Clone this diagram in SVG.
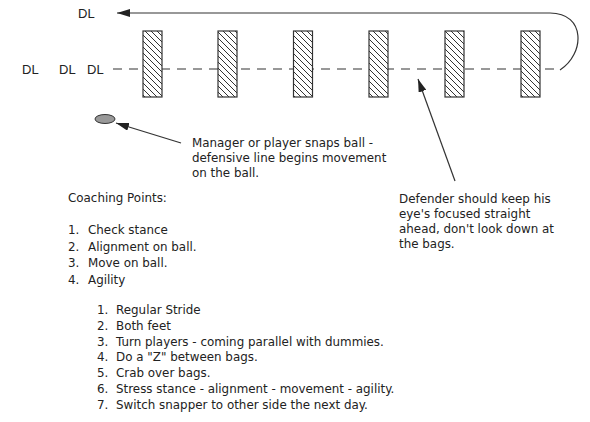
<svg xmlns="http://www.w3.org/2000/svg" width="590" height="422" viewBox="0 0 590 422">
<style>
text{font-family:"DejaVu Sans","Liberation Sans",sans-serif;font-size:11.9px;fill:#222}
.dl{font-family:"Liberation Sans",Arial,sans-serif;font-size:13px}
.bag{fill:url(#hatch);stroke:#333;stroke-width:1.2}
.ln{fill:none;stroke:#333;stroke-width:1.2}
.dash{fill:none;stroke:#333;stroke-width:1.2;stroke-dasharray:9 7}
</style>
<defs>
<pattern id="hatch" patternUnits="userSpaceOnUse" width="6" height="6">
<rect width="6" height="6" fill="#fff"/>
<path d="M-1,-1 L7,7 M-1,5 L1,7 M5,-1 L7,1" stroke="#333" stroke-width="1"/>
</pattern>
<marker id="ah" viewBox="0 0 13 8" refX="13" refY="4" markerWidth="13" markerHeight="8" markerUnits="userSpaceOnUse" orient="auto">
<path d="M0,0 L13,4 L0,8 Z" fill="#222"/>
</marker>
</defs>
<g id="connectors">
<path class="dash" d="M113,69 H560"/>
<path class="ln" d="M560,70 C585,54 586,13 550,13 H117" marker-end="url(#ah)"/>
<line class="ln" x1="181" y1="143" x2="116" y2="123" marker-end="url(#ah)"/>
<line class="ln" x1="455" y1="181" x2="418" y2="79" marker-end="url(#ah)"/>
</g>
<g id="dl-labels">
<text class="dl" x="78" y="18">DL</text>
<text class="dl" x="22" y="74">DL</text>
<text class="dl" x="59" y="74">DL</text>
<text class="dl" x="87" y="74">DL</text>
</g>
<g id="bags">
<rect id="bag1" class="bag" x="143" y="31" width="19" height="66"/>
<rect id="bag2" class="bag" x="218" y="31" width="19" height="66"/>
<rect id="bag3" class="bag" x="293.5" y="31" width="19" height="66"/>
<rect id="bag4" class="bag" x="369" y="31" width="19" height="66"/>
<rect id="bag5" class="bag" x="445" y="31" width="19" height="66"/>
<rect id="bag6" class="bag" x="521" y="31" width="19" height="66"/>
</g>
<g id="ball">
<ellipse cx="105" cy="119" rx="10" ry="4.5" fill="#999" stroke="#333" stroke-width="1"/>
</g>
<g id="snap-note">
<text x="192" y="147">Manager or player snaps ball -</text>
<text x="192" y="162">defensive line begins movement</text>
<text x="192" y="177">on the ball.</text>
</g>
<g id="defender-note">
<text x="399" y="203">Defender should keep his</text>
<text x="399" y="218">eye's focused straight</text>
<text x="399" y="233">ahead, don't look down at</text>
<text x="399" y="248">the bags.</text>
</g>
<g id="coaching">
<text x="68" y="202">Coaching Points:</text>
<text x="68" y="234">1.<tspan x="88">Check stance</tspan></text>
<text x="68" y="250.5">2.<tspan x="88">Alignment on ball.</tspan></text>
<text x="68" y="267">3.<tspan x="88">Move on ball.</tspan></text>
<text x="68" y="283.5">4.<tspan x="88">Agility</tspan></text>
<text x="97" y="314">1.<tspan x="116">Regular Stride</tspan></text>
<text x="97" y="329.8">2.<tspan x="116">Both feet</tspan></text>
<text x="97" y="345.6">3.<tspan x="116">Turn players - coming parallel with dummies.</tspan></text>
<text x="97" y="361.4">4.<tspan x="116">Do a "Z" between bags.</tspan></text>
<text x="97" y="377.2">5.<tspan x="116">Crab over bags.</tspan></text>
<text x="97" y="393">6.<tspan x="116">Stress stance - alignment - movement - agility.</tspan></text>
<text x="97" y="408.8">7.<tspan x="116">Switch snapper to other side the next day.</tspan></text>
</g>
</svg>
